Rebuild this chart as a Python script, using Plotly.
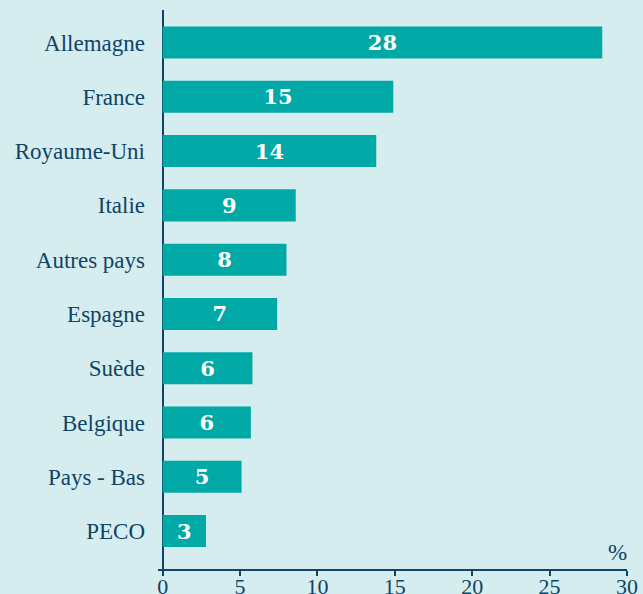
import plotly.graph_objects as go

categories = ["Allemagne", "France", "Royaume-Uni", "Italie", "Autres pays",
              "Espagne", "Suède", "Belgique", "Pays - Bas", "PECO"]
values = [28.4, 14.9, 13.8, 8.6, 8.0, 7.4, 5.8, 5.7, 5.1, 2.8]
labels = ["28", "15", "14", "9", "8", "7", "6", "6", "5", "3"]
x_ticks = [0, 5, 10, 15, 20, 25, 30]

n = len(categories)
ypos = [n - 1 - i for i in range(n)]

navy = "#0f4466"
bg = "#d6edef"
teal = "#00a9a6"
serif = "Liberation Serif"

fig = go.Figure(go.Bar(
    x=values, y=ypos, orientation="h",
    marker=dict(color=teal, line=dict(width=0)),
    width=0.59,
    text=labels,
    texttemplate="<b>%{text}</b>",
    textposition="inside",
    insidetextanchor="middle",
    textangle=0,
    textfont=dict(family="DejaVu Serif", size=21, color="white"),
    hoverinfo="skip",
))

fig.update_layout(
    width=643, height=594,
    margin=dict(l=158, r=16, t=10, b=25),
    paper_bgcolor=bg, plot_bgcolor=bg,
    showlegend=False,
    font=dict(family=serif, color=navy),
    uniformtext=dict(minsize=10, mode="show"),
)

fig.update_xaxes(
    range=[-0.3, 30],
    tickvals=x_ticks,
    ticktext=[str(t) for t in x_ticks],
    showgrid=False,
    showline=True, linecolor=navy, linewidth=1.5,
    ticks="outside", ticklen=5, tickcolor=navy, tickwidth=1.5,
    ticklabelstandoff=-8,
    tickfont=dict(family=serif, size=22, color=navy),
    zeroline=True, zerolinecolor=navy, zerolinewidth=1.5,
    automargin=False,
)

fig.update_yaxes(
    range=[-0.7, n - 1 + 0.6],
    tickvals=ypos,
    ticktext=categories,
    showgrid=False, showline=False, zeroline=False,
    ticks="", ticklabelstandoff=12,
    tickfont=dict(family=serif, size=23, color=navy),
    automargin=False,
)

fig.add_annotation(
    x=29.4, xref="x", y=0, yref="paper",
    text="%", showarrow=False,
    xanchor="center", yanchor="bottom", yshift=2,
    font=dict(family=serif, size=23, color=navy),
)

fig.write_html("out.html", config={"displayModeBar": False},
               post_script="document.body.style.margin='0';document.body.style.overflow='hidden';")
